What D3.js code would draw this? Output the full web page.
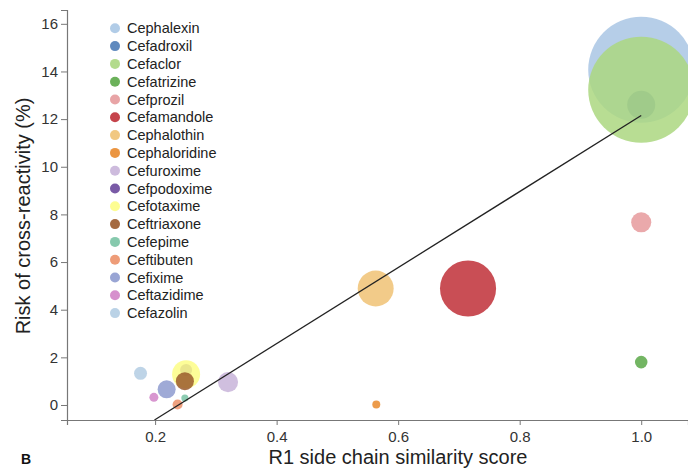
<!DOCTYPE html>
<html>
<head>
<meta charset="utf-8">
<script src="https://cdn.jsdelivr.net/npm/d3@7/dist/d3.min.js"></script>
<style>
  body { margin: 0; background: #fff; }
  svg { display: block; font-family: "Liberation Sans", Arial, sans-serif; }
</style>
</head>
<body>
<svg width="688" height="468"></svg>
<script>
// drugs, drawn in this order (later ones on top)
const drugs = ['Cephalexin', 'Cefadroxil', 'Cefaclor', 'Cefatrizine', 'Cefprozil', 'Cefamandole',
    'Cephalothin', 'Cephaloridine', 'Cefuroxime', 'Cefpodoxime', 'Cefotaxime', 'Ceftriaxone',
    'Cefepime', 'Ceftibuten', 'Cefixime', 'Ceftazidime', 'Cefazolin'];
const similarity = [1.0, 1.0, 1.0, 1.0, 1.0, 0.715, 0.563, 0.564, 0.32, 0.251, 0.251, 0.249,
    0.249, 0.237, 0.219, 0.198, 0.176];
const risk = [14.07, 12.6, 13.23, 1.8, 7.67, 4.89, 4.89, 0.02, 0.96, 1.47, 1.29, 1.0,
    0.29, 0.02, 0.66, 0.32, 1.33];
const weight = [100, 7, 100, 1.4, 3.6, 28, 11.5, 0.57, 3.6, 1.3, 7, 2.9,
    0.45, 0.9, 2.9, 0.72, 1.5];
const colors = ['#a9c6e4', '#4f7db7', '#abd780', '#5ba848', '#e69a9c', '#bf2f37',
    '#f0c274', '#e9892c', '#c8b4d9', '#6a489c', '#fdfd86', '#9a5a2c',
    '#79c3a4', '#ec9169', '#8e9bcf', '#d184c8', '#b3cde3'];

// fitted line (start / end)
const fitX = [0.199, 1.0];
const fitY = [-0.63, 12.15];

const xTicks = [0.2, 0.4, 0.6, 0.8, 1.0];
const yTicks = [0, 2, 4, 6, 8, 10, 12, 14, 16];

var svg = d3.select('svg');
var mLeft = 67, mTop = 10, mRight = 688, mBottom = 420;

var x = d3.scaleLinear().domain([0.055, 1.077]).range([mLeft, mRight]);
var y = d3.scaleLinear().domain([-0.63, 16.58]).range([mBottom, mTop]);
var r = d3.scaleSqrt().domain([0, 100]).range([0, 53]);

var plot = svg.append('g');
var pts = drugs.map((d, i) => ({ name: d, x: similarity[i], y: risk[i], w: weight[i], c: colors[i] }));

plot.selectAll('circle')
    .data(pts)
    .enter().append('circle')
    .attr('cx', d => x(d.x))
    .attr('cy', d => y(d.y))
    .attr('r', d => r(d.w))
    .attr('fill', d => d.c)
    .attr('fill-opacity', 0.85);

plot.append('line')
    .attr('x1', x(fitX[0])).attr('y1', y(fitY[0]))
    .attr('x2', x(fitX[1])).attr('y2', y(fitY[1]))
    .attr('stroke', '#222')
    .attr('stroke-width', 1.3);

// axes
var xAxis = svg.append('g')
    .attr('transform', 'translate(0,' + mBottom + ')')
    .call(d3.axisBottom(x).tickValues(xTicks).tickFormat(d3.format('.1f')).tickSizeOuter(0).tickSize(5));
var yAxis = svg.append('g')
    .attr('transform', 'translate(' + mLeft + ',0)')
    .call(d3.axisLeft(y).tickValues(yTicks).tickSizeOuter(0).tickSize(6));

[xAxis, yAxis].forEach(function(a) {
    a.select('.domain').attr('stroke', '#777').attr('stroke-width', 1.2);
    a.selectAll('.tick line').attr('stroke', '#777');
    a.selectAll('.tick text').attr('fill', '#333').style('font-size', '15px');
});
xAxis.selectAll('.tick text').attr('dy', '0.95em');
yAxis.selectAll('.tick text').attr('x', -9);

svg.append('text')
    .attr('x', 398).attr('y', 464)
    .attr('text-anchor', 'middle')
    .attr('fill', '#222')
    .style('font-size', '20px')
    .text('R1 side chain similarity score');

svg.append('text')
    .attr('transform', 'translate(30,216) rotate(-90)')
    .attr('text-anchor', 'middle')
    .attr('fill', '#222')
    .style('font-size', '20px')
    .text('Risk of cross-reactivity (%)');

svg.append('text')
    .attr('x', 21).attr('y', 464)
    .attr('fill', '#111')
    .style('font-size', '14px')
    .style('font-weight', 'bold')
    .text('B');

// legend
var legend = svg.append('g');
var rows = legend.selectAll('g')
    .data(pts)
    .enter().append('g')
    .attr('transform', (d, i) => 'translate(115,' + (28.3 + i * 17.8) + ')');
rows.append('circle')
    .attr('r', 5)
    .attr('fill', d => d.c)
    .attr('fill-opacity', 0.9);
rows.append('text')
    .attr('x', 12)
    .attr('dy', '0.35em')
    .attr('fill', '#222')
    .style('font-size', '14.5px')
    .text(d => d.name);
</script>
</body>
</html>
